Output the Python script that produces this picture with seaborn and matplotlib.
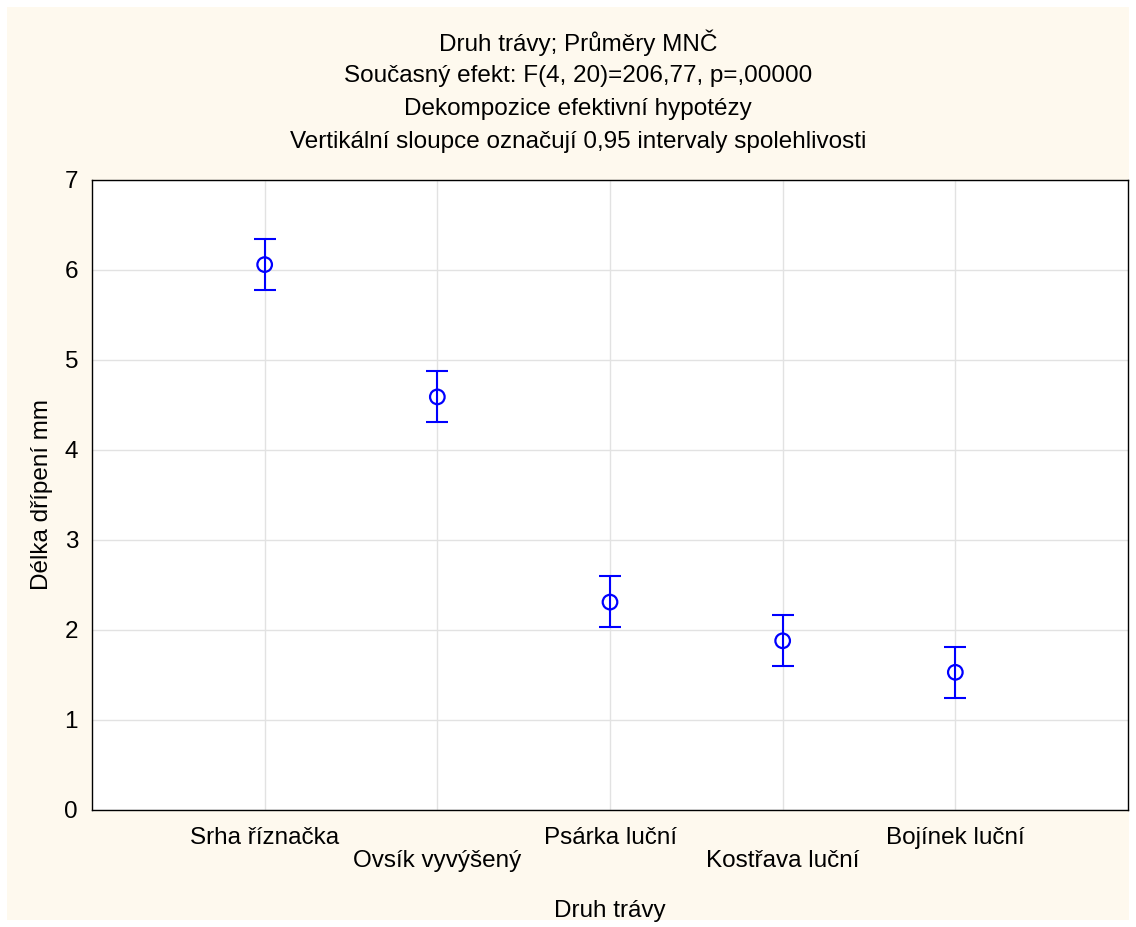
import pandas as pd
from matplotlib import pyplot as plt
from matplotlib.patches import Rectangle
import seaborn as sns

druh = ['Srha říznačka', 'Ovsík vyvýšený', 'Psárka luční', 'Kostřava luční', 'Bojínek luční']
prumer = [6.06, 4.59, 2.31, 1.88, 1.53]
dolni = [5.78, 4.31, 2.03, 1.60, 1.25]
horni = [6.34, 4.88, 2.60, 2.17, 1.81]

df = pd.DataFrame({'druh': druh, 'prumer': prumer, 'dolni': dolni, 'horni': horni})

sns.set_theme(style='whitegrid')
plt.rcParams['font.family'] = ['Liberation Sans', 'DejaVu Sans']
cream = '#fef9ee'
fs = 17.5

fig = plt.figure(figsize=(11.36, 9.27), dpi=100, facecolor='white')
fig.patches.append(Rectangle((7 / 1136, 7 / 927), 1 - 14 / 1136, 1 - 14 / 927,
                             transform=fig.transFigure, facecolor=cream,
                             edgecolor='none', zorder=-10))
ax = fig.add_axes([92 / 1136, 1 - 810 / 927, (1128 - 92) / 1136, (810 - 180) / 927])
ax.set_facecolor('white')

ax.errorbar(df['druh'], df['prumer'],
            yerr=[df['prumer'] - df['dolni'], df['horni'] - df['prumer']],
            fmt='none', ecolor='#0000ff', elinewidth=1.5, capsize=8, capthick=1.5, zorder=3)
sns.scatterplot(data=df, x='druh', y='prumer', ax=ax, marker='o', s=110,
                facecolor='none', edgecolor='#0000ff', linewidth=1.6, zorder=4)

ax.set_xlim(-1, 5)
ax.set_ylim(0, 7)
ax.set_yticks(range(0, 8))
ax.set_xticks(range(len(druh)))
ax.set_xticklabels([d if i % 2 == 0 else '\n' + d for i, d in enumerate(druh)],
                   linespacing=1.1)
ax.grid(True, color='#e2e2e2', linewidth=1)
for s in ax.spines.values():
    s.set_color('black')
    s.set_linewidth(1)
ax.tick_params(axis='both', direction='in', length=5, width=1, color='black',
               labelsize=fs, labelcolor='black', pad=10)
ax.tick_params(axis='x', pad=12)
ax.set_xlabel('Druh trávy', fontsize=fs, color='black', labelpad=20)
ax.set_ylabel('Délka dřípení mm', fontsize=fs, color='black', labelpad=8)

titulky = ['Druh trávy; Průměry MNČ',
           'Současný efekt: F(4, 20)=206,77, p=,00000',
           'Dekompozice efektivní hypotézy',
           'Vertikální sloupce označují 0,95 intervaly spolehlivosti']
for i, t in enumerate(titulky):
    fig.text(578 / 1136, 1 - (43 + i * 33) / 927, t, ha='center', va='center',
             fontsize=fs, color='black')

fig.savefig('out.png', dpi=100, facecolor='white')
